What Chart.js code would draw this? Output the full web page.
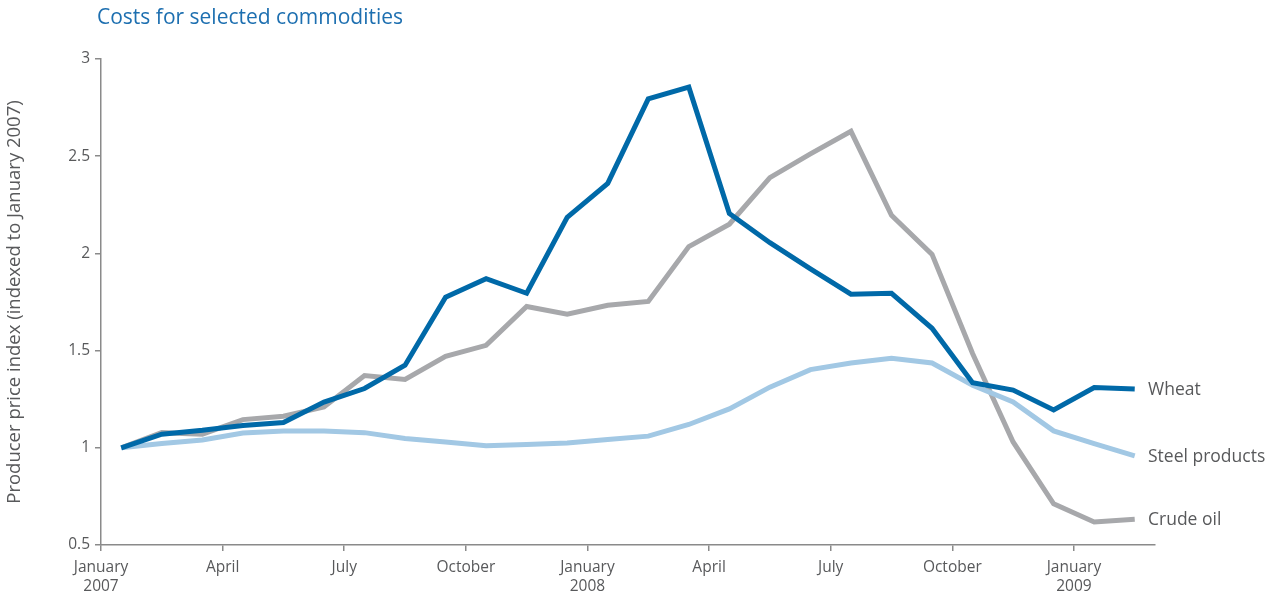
<!DOCTYPE html>
<html>
<head>
<meta charset="utf-8">
<script src="https://cdn.jsdelivr.net/npm/chart.js@4/dist/chart.umd.min.js"></script>
<style>
   body{margin:0;background:#fff;}
   #wrap{position:relative;width:1277px;height:596px;}
</style>
</head>
<body>
<div id="wrap"><canvas id="costsChart" width="1277" height="596"></canvas></div>
<script>
// monthly points, Jan 2007 .. Feb 2009 (plotted mid-month)
let months = ['Jan 07','Feb 07','Mar 07','Apr 07','May 07','Jun 07','Jul 07','Aug 07','Sep 07','Oct 07','Nov 07','Dec 07',
   'Jan 08','Feb 08','Mar 08','Apr 08','May 08','Jun 08','Jul 08','Aug 08','Sep 08','Oct 08','Nov 08','Dec 08',
   'Jan 09','Feb 09'];

let wheat = [1.0, 1.07, 1.09, 1.115, 1.13, 1.235, 1.305, 1.425, 1.775, 1.87, 1.795, 2.185,
   2.36, 2.795, 2.855, 2.205, 2.055, 1.92, 1.79, 1.795, 1.615, 1.335, 1.297, 1.195, 1.31, 1.302];

let steel = [1.0, 1.022, 1.04, 1.076, 1.086, 1.086, 1.078, 1.048, 1.03, 1.01, 1.017, 1.025,
   1.043, 1.06, 1.12, 1.2, 1.312, 1.402, 1.436, 1.46, 1.436, 1.322, 1.236, 1.087, 1.022, 0.959];

let crude = [1.0, 1.078, 1.07, 1.145, 1.162, 1.21, 1.372, 1.352, 1.47, 1.527, 1.727, 1.687,
   1.733, 1.753, 2.035, 2.15, 2.39, 2.512, 2.628, 2.196, 1.995, 1.485, 1.03, 0.712, 0.618, 0.632];

let xTickMonths = [0, 3, 6, 9, 12, 15, 18, 21, 24];
let xTickLabels = [['January','2007'], 'April', 'July', 'October', ['January','2008'], 'April', 'July', 'October', ['January','2009']];
let yTicks = [0.5, 1, 1.5, 2, 2.5, 3];

let fontName = '"Open Sans", "Noto Sans", sans-serif';

const toPoints = (arr) => arr.map((v, i) => ({x: i + 0.5, y: v}));

// series names written at the end of each line + chart heading
const endLabels = {
   id: 'endLabels',
   afterDraw(chart){
      let ctx = chart.ctx;
      ctx.save();
      ctx.font = '17.5px ' + fontName;
      ctx.fillStyle = '#58595b';
      ctx.textBaseline = 'middle';
      ctx.textAlign = 'left';
      chart.data.datasets.forEach((ds, i) => {
         let meta = chart.getDatasetMeta(i);
         let last = meta.data[meta.data.length - 1];
         ctx.fillText(ds.label, 1148, last.y + 1);
      });
      ctx.font = '21px ' + fontName;
      ctx.fillStyle = '#1d6fb0';
      ctx.fillText('Costs for selected commodities', 97, 18);
      ctx.restore();
   }
};

let ctx = document.getElementById('costsChart').getContext('2d');
let costsChart = new Chart(ctx, {
   type: 'line',
   data: {
      datasets: [{
         label: 'Wheat',
         data: toPoints(wheat),
         borderColor: '#0069a8',
         borderWidth: 5,
         pointRadius: 0,
         fill: false
      }, {
         label: 'Steel products',
         data: toPoints(steel),
         borderColor: '#a2c8e4',
         borderWidth: 5,
         pointRadius: 0,
         fill: false
      }, {
         label: 'Crude oil',
         data: toPoints(crude),
         borderColor: '#a7a8ab',
         borderWidth: 5,
         pointRadius: 0,
         fill: false
      }]
   },
   plugins: [endLabels],
   options: {
      responsive: false,
      animation: false,
      layout: {padding: {top: 59, right: 122, left: 0, bottom: 0}},
      plugins: {
         legend: {display: false},
         tooltip: {enabled: false}
      },
      scales: {
         x: {
            type: 'linear',
            min: 0,
            max: 26,
            afterBuildTicks: (scale) => { scale.ticks = xTickMonths.map(v => ({value: v})); },
            afterFit: (scale) => { scale.height = 51; },
            border: {color: '#8a8a8a', width: 1.5},
            grid: {drawOnChartArea: false, drawTicks: true, tickLength: 6, color: '#8a8a8a', lineWidth: 1.5},
            ticks: {
               autoSkip: false,
               maxRotation: 0,
               padding: 8,
               color: '#58595b',
               font: {family: fontName, size: 15.5, lineHeight: 1.17},
               callback: (value) => xTickLabels[xTickMonths.indexOf(value)]
            }
         },
         y: {
            min: 0.5,
            max: 3,
            afterBuildTicks: (scale) => { scale.ticks = yTicks.map(v => ({value: v})); },
            afterFit: (scale) => { scale.width = 101; },
            border: {color: '#8a8a8a', width: 1.5},
            grid: {drawOnChartArea: false, drawTicks: true, tickLength: 6, color: '#8a8a8a', lineWidth: 1.5},
            ticks: {
               padding: 5,
               color: '#58595b',
               font: {family: fontName, size: 15.5},
               callback: (value) => String(value)
            },
            title: {
               display: true,
               text: 'Producer price index (indexed to January 2007)',
               color: '#58595b',
               font: {family: fontName, size: 18.5},
               padding: {top: 4, bottom: 0}
            }
         }
      }
   }
});
</script>
</body>
</html>
